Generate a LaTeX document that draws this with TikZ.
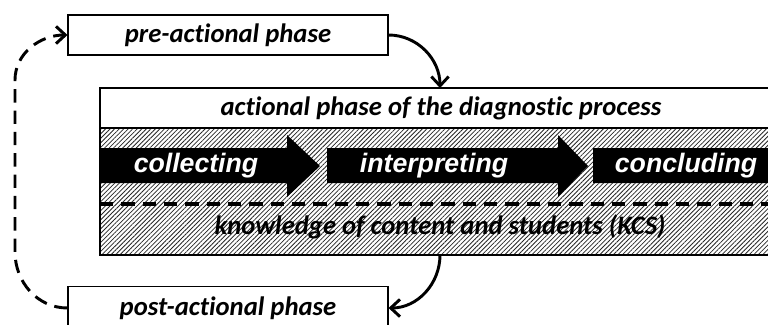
\documentclass[tikz,border=0pt]{standalone}
\usepackage{fontspec}
\setmainfont{Carlito}[Ligatures=NoCommon]
\newfontfamily\arialfont{Liberation Sans}
\usetikzlibrary{patterns.meta,arrows.meta}

\tikzset{
    phasefont/.style={font=\fontsize{20}{24}\selectfont\bfseries\itshape},
    stepfont/.style={font=\arialfont\fontsize{20}{24}\selectfont\bfseries\itshape, text=white},
    flow/.style={line width=2.2pt, -{Straight Barb[length=7pt,width=13pt]}},
    longdash/.style={dash pattern=on 10pt off 6pt}
}

\begin{document}
\begin{tikzpicture}[x=0.75pt,y=-0.75pt]
    \path[use as bounding box] (0,0) rectangle (768,325);
    \clip (0,0) rectangle (768,325);

    % actional phase
    \draw[pattern={Lines[angle=45, distance=2.4pt, line width=0.6pt]}, pattern color=black!85] (100,128) rectangle (790,255);
    \foreach \a/\b/\c in {100/287/320, 327/558/588, 593/800/830}
        \fill (\a,148) -- (\b,148) -- (\b,135) -- (\c,166) -- (\b,197) -- (\b,183) -- (\a,183) -- cycle;
    \draw[line width=2.6pt, longdash] (100,204) -- (790,204);
    \draw[line width=1.6pt] (100,128) rectangle (790,255);
    \node[draw, line width=1.6pt, fill=white, minimum width=517.5pt, minimum height=30pt, inner sep=0pt] (head) at (445,108) {};
    \node[phasefont] at (441,108) {actional phase of the diagnostic process};

    \node[stepfont] (collect) at (196,166) {collecting};
    \node[stepfont] (interpret) at (434,166) {interpreting};
    \node[stepfont] (conclude) at (686,166) {concluding};
    \node[phasefont] (kcs) at (440,227) {knowledge of content and students (KCS)};

    \coordinate (intop) at (440,88);
    \coordinate (inbot) at (440,255);

    \begin{scope}[every node/.style={draw, thick, fill=white, minimum width=240pt, minimum height=30pt, inner sep=0pt, phasefont}]
        \node (pre) at (228,35) {pre-actional phase};
        \node[minimum height=32pt] (post) at (228,308) {post-actional phase};
    \end{scope}

    \path [flow] (pre.east) edge[out=0, in=90] (intop);
    \path [flow] (inbot) edge[out=-90, in=0] (post.east);
    \coordinate (lo) at (15,252);
    \coordinate (hi) at (15,80);
    \draw[flow, longdash] (post.west) to[out=180, in=-90] (lo) -- (hi) to[out=90, in=180] (pre.west);
\end{tikzpicture}
\end{document}
